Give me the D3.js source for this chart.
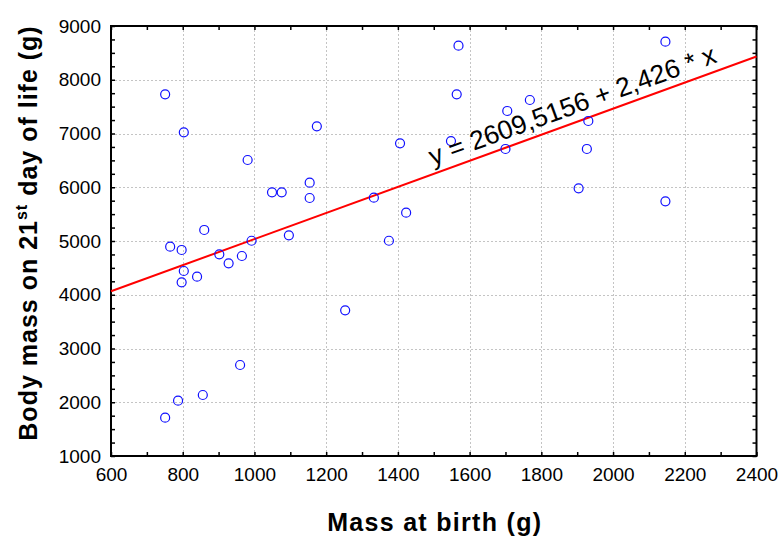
<!DOCTYPE html>
<html>
<head>
<meta charset="utf-8">
<script src="https://cdn.jsdelivr.net/npm/d3@7"></script>
<style>
  html, body { margin: 0; padding: 0; background: #fff; }
  svg { display: block; font-family: "Liberation Sans", Arial, sans-serif; }
</style>
</head>
<body>
<svg id="chart" width="781" height="536"></svg>
<script>
// ---- Data ----
const massAtBirth = [751, 803, 981, 1049, 1076, 1154, 1154, 1174, 1333, 860, 992, 1096, 765, 797, 902, 928, 965, 803, 797, 840, 1253, 960, 856, 787, 751, 1569, 2146, 1564, 1768, 1705, 1931, 1406, 1548, 1700, 1927, 1904, 2146, 1423, 1375];
const massDay21   = [7729, 7022, 6507, 5906, 5906, 6085, 5800, 7134, 5806, 5205, 5005, 5106, 4894, 4833, 4752, 4585, 4721, 4442, 4232, 4336, 3710, 2693, 2135, 2029, 1713, 8634, 8708, 7729, 7623, 7419, 7233, 6817, 6860, 6712, 6712, 5980, 5738, 5527, 5005];
const regression = [2609.5156, 2.426]; // intercept, slope
const xTicks = [600, 800, 1000, 1200, 1400, 1600, 1800, 2000, 2200, 2400];
const yTicks = [1000, 2000, 3000, 4000, 5000, 6000, 7000, 8000, 9000];
const equationText = "y = 2609,5156 + 2,426 * x";
const equationStartX = 1505;

// ---- Layout ----
const svg = d3.select("#chart");
const L = 111, R = 756.5, T = 26, B = 456;
const x = d3.scaleLinear().domain([600, 2400]).range([L, R]);
const y = d3.scaleLinear().domain([1000, 9000]).range([B, T]);

// grid
const grid = svg.append("g").attr("stroke", "#c4c4c4").attr("stroke-width", 1).attr("stroke-dasharray", "2,2");
grid.selectAll(".gx").data(xTicks.slice(1, -1)).enter().append("line")
  .attr("x1", d => Math.round(x(d)) + 0.5).attr("x2", d => Math.round(x(d)) + 0.5)
  .attr("y1", T).attr("y2", B);
grid.selectAll(".gy").data(yTicks.slice(1, -1)).enter().append("line")
  .attr("y1", d => Math.round(y(d)) + 0.5).attr("y2", d => Math.round(y(d)) + 0.5)
  .attr("x1", L).attr("x2", R);

// axes (ticks inside)
const xMinor = d3.range(600, 2401, 100);
const yMinor = d3.range(1000, 9001, 250);
function addAxis(axis, transform) {
  const g = svg.append("g").attr("transform", transform).call(axis);
  g.select(".domain").remove();
  g.selectAll(".tick line").attr("stroke", "#000").attr("stroke-width", 1.5);
  return g;
}
// bottom
addAxis(d3.axisTop(x).tickValues(xMinor).tickSize(4).tickFormat(""), `translate(0,${B})`);
const xAx = addAxis(d3.axisBottom(x).tickValues(xTicks).tickSize(0).tickPadding(12).tickFormat(d3.format("d")), `translate(0,${B})`);
xAx.selectAll("text").attr("font-size", 19).attr("fill", "#000").attr("font-family", "Liberation Sans, Arial, sans-serif");
// top
addAxis(d3.axisBottom(x).tickValues(xMinor).tickSize(4).tickFormat(""), `translate(0,${T})`);
// left
addAxis(d3.axisRight(y).tickValues(yMinor).tickSize(4).tickFormat(""), `translate(${L},0)`);
const yAx = addAxis(d3.axisLeft(y).tickValues(yTicks).tickSize(0).tickPadding(10).tickFormat(d3.format("d")), `translate(${L},0)`);
yAx.selectAll("text").attr("font-size", 19).attr("fill", "#000").attr("font-family", "Liberation Sans, Arial, sans-serif");
// right
addAxis(d3.axisLeft(y).tickValues(yMinor).tickSize(4).tickFormat(""), `translate(${R},0)`);

// frame
svg.append("rect").attr("x", L).attr("y", T).attr("width", R - L).attr("height", B - T)
  .attr("fill", "none").attr("stroke", "#000").attr("stroke-width", 2);

// regression line
const line = d3.line().x(d => x(d)).y(d => y(regression[0] + regression[1] * d));
svg.append("path").datum([600, 2400]).attr("d", line)
  .attr("fill", "none").attr("stroke", "#ff0000").attr("stroke-width", 2);

// points
svg.append("g").selectAll("circle").data(massAtBirth.map((d, i) => [d, massDay21[i]]))
  .enter().append("circle")
  .attr("cx", d => x(d[0])).attr("cy", d => y(d[1])).attr("r", 4.5)
  .attr("fill", "none").attr("stroke", "#1010ff").attr("stroke-width", 1.2);

// equation label
const angle = Math.atan2(y(regression[0] + regression[1] * 2400) - y(regression[0] + regression[1] * 600), x(2400) - x(600)) * 180 / Math.PI;
const ex = x(equationStartX), ey = y(regression[0] + regression[1] * equationStartX);
svg.append("text")
  .attr("transform", `translate(${ex},${ey}) rotate(${angle}) translate(0,-8)`)
  .attr("font-size", 26.5).attr("fill", "#000")
  .text(equationText);

// axis titles
svg.append("text").attr("x", (L + R) / 2 + 1).attr("y", 531)
  .attr("text-anchor", "middle").attr("font-size", 25).attr("font-weight", "bold")
  .attr("letter-spacing", 1.3).attr("fill", "#000")
  .text("Mass at birth (g)");

const yt = svg.append("text").attr("transform", "translate(37,233) rotate(-90)")
  .attr("text-anchor", "middle").attr("font-size", 25).attr("font-weight", "bold")
  .attr("letter-spacing", 1).attr("fill", "#000");
yt.append("tspan").text("Body mass on 21");
yt.append("tspan").attr("font-size", 16).attr("dy", -10).text("st");
yt.append("tspan").attr("dy", 10).text(" day of life (g)");
</script>
</body>
</html>
